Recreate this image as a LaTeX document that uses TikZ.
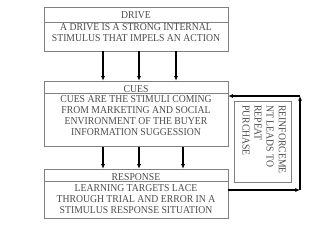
\documentclass[tikz,border=0pt]{standalone}
\usepackage{fontspec}
\setmainfont{Liberation Serif}[FakeStretch=0.92]
\usetikzlibrary{arrows.meta}
\definecolor{boxgray}{RGB}{128,128,128}
\definecolor{txtgray}{RGB}{75,75,75}

\begin{document}
\begin{tikzpicture}[
    x=0.3mm, y=-0.3mm,
    box/.style={draw=boxgray, line width=0.5pt, inner sep=0pt},
    ttl/.style={font=\fontsize{9}{9.5}\selectfont, text=txtgray, inner sep=0pt},
    body/.style={font=\fontsize{9}{9.5}\selectfont, text=txtgray, align=center,
      anchor=north, inner sep=0pt},
    flow/.style={draw=black, line width=0.9pt, -{Latex[length=4pt,width=3.6pt]}},
  ]
  \useasboundingbox (0,0) rectangle (320,234);

  %% ---- the three stages ----
  \node[box, minimum width=55.2mm, minimum height=13.2mm] (drive) at (136,29) {};
  \node[box, minimum width=55.2mm, minimum height=19.7mm] (cues) at (136,113.85) {};
  \node[box, minimum width=55.2mm, minimum height=14.8mm] (response) at (136,193.7) {};
  \draw[box] (drive.west |- 0,22) -- (drive.east |- 0,22);
  \draw[box] (cues.west |- 0,93.5) -- (cues.east |- 0,93.5);
  \draw[box] (response.west |- 0,181.7) -- (response.east |- 0,181.7);

  \node[ttl] (drivettl) at (136,15.5) {DRIVE};
  \node[body] (drivetxt) at (136,23) {A DRIVE IS A STRONG INTERNAL\\STIMULUS THAT IMPELS AN ACTION};
  \node[ttl] (cuesttl) at (136,89.3) {CUES};
  \node[body] (cuestxt) at (136,95) {CUES ARE THE STIMULI COMING\\FROM MARKETING AND SOCIAL\\ENVIRONMENT OF THE BUYER\\INFORMATION SUGGESSION};
  \node[ttl] (resttl) at (136,177) {RESPONSE};
  \node[body] (restxt) at (136,184.3) {LEARNING TARGETS LACE\\THROUGH TRIAL AND ERROR IN A\\STIMULUS RESPONSE SITUATION};

  %% ---- side box, read top to bottom ----
  \node[box, minimum width=17.1mm, minimum height=24.3mm] (reinf) at (262.5,141.5) {};
  \node[body, rotate=-90, align=left, anchor=north west,
        font=\fontsize{9}{10.3}\selectfont] (reinftxt) at (286,105)
    {REINFORCEME\\NT LEADS TO\\REPEAT\\PURCHASE};

  %% ---- arrows between stages ----
  \foreach \x in {103,139,176} {
    \draw[flow] (\x,0 |- drive.south) -- (\x,0 |- cues.north);
  }
  \foreach \x in {103,139,183} {
    \draw[flow] (\x,0 |- cues.south) -- (\x,0 |- response.north);
  }

  %% ---- feedback loop ----
  \coordinate (loopbot) at (300,190);
  \coordinate (looptop) at (300,96);
  \draw[flow] (response.east |- loopbot) -- (loopbot);
  \draw[flow] (loopbot) -- (looptop);
  \draw[flow] (looptop) -- (cues.east |- looptop);
\end{tikzpicture}
\end{document}
